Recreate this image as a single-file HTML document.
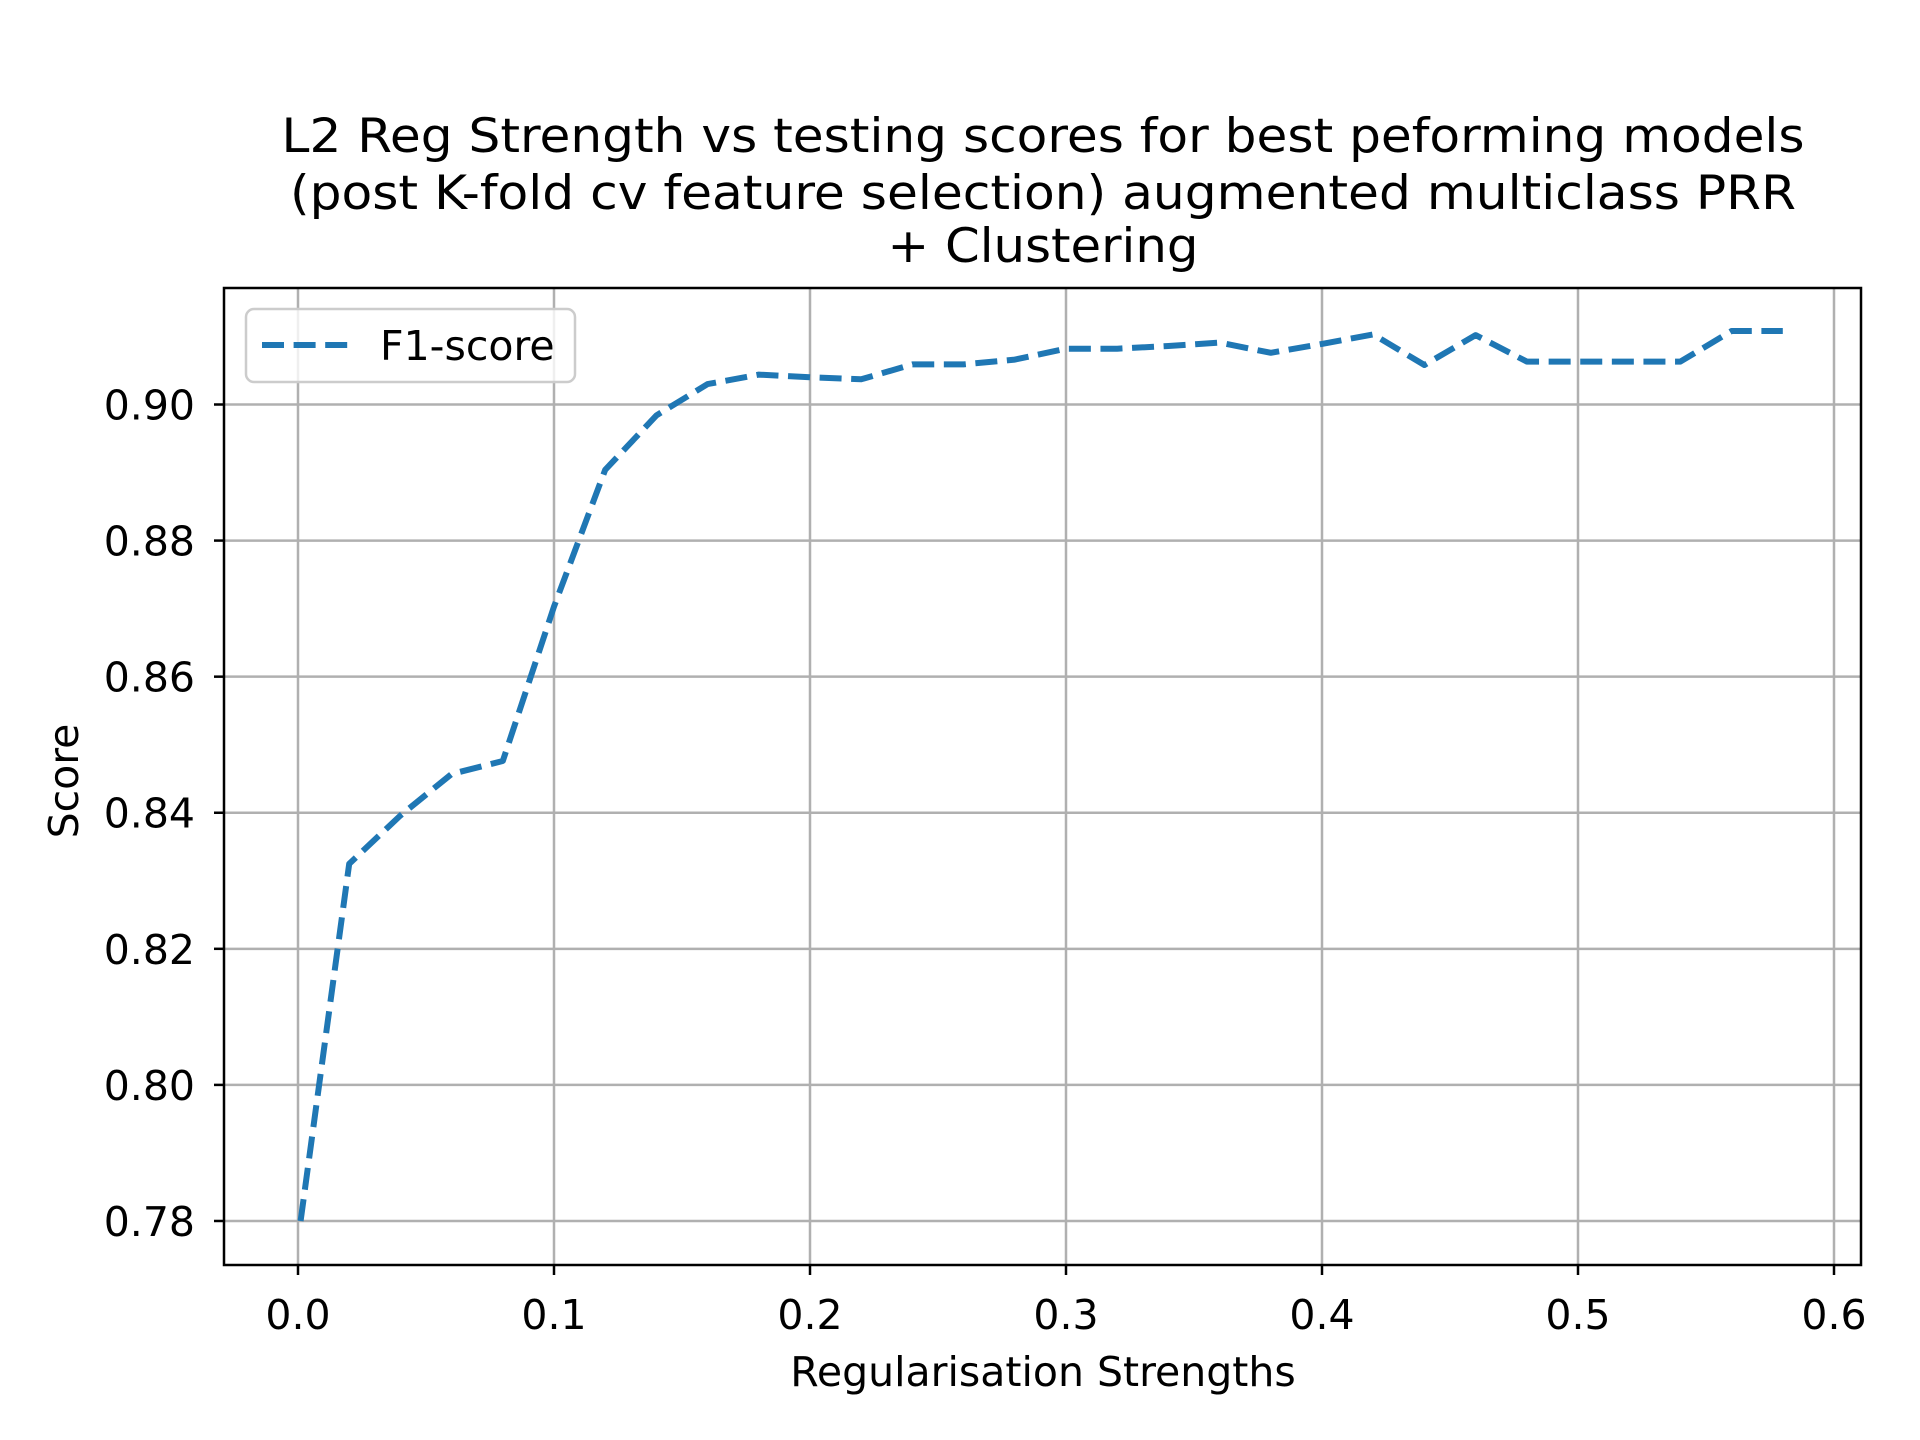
<!DOCTYPE html>
<html><head><meta charset="utf-8"><style>
body{margin:0;background:#fff}
svg{display:block;font-family:"DejaVu Sans","Liberation Sans",sans-serif}
</style></head><body>
<svg id="chart" width="1920" height="1440" viewBox="0 0 1920 1440">
<rect width="1920" height="1440" fill="#fff"/>
<g id="title" font-size="47" text-anchor="middle" fill="#000">
<text x="1043" y="152" textLength="1523" lengthAdjust="spacingAndGlyphs">L2 Reg Strength vs testing scores for best peforming models</text>
<text x="1043" y="209" textLength="1506" lengthAdjust="spacingAndGlyphs">(post K-fold cv feature selection) augmented multiclass PRR</text>
<text x="1043" y="262" textLength="311" lengthAdjust="spacingAndGlyphs">+ Clustering</text>
</g>
<g id="grid"></g>
<g id="series"></g>
<rect x="224" y="288" width="1637" height="977" fill="none" stroke="#000" stroke-width="2.5"/>
<g id="ticks"></g>
<text x="1043" y="1386" font-size="41" text-anchor="middle">Regularisation Strengths</text>
<text transform="translate(78,781) rotate(-90)" font-size="41" text-anchor="middle">Score</text>
<g>
<rect x="246" y="309" width="329" height="73" rx="8" fill="#fff" fill-opacity="0.8" stroke="#ccc" stroke-width="2.5"/>
<line x1="262" y1="345" x2="355" y2="345" stroke="#1f77b4" stroke-width="6" stroke-dasharray="22,9.6"/>
<text x="380" y="360" font-size="41">F1-score</text>
</g>
</svg>
<script>
const xValues=[0.001,0.02,0.04,0.06,0.08,0.10,0.12,0.14,0.16,0.18,0.20,0.22,0.24,0.26,0.28,0.30,0.32,0.34,0.36,0.38,0.40,0.42,0.44,0.46,0.48,0.50,0.52,0.54,0.56,0.58];
const f1Scores=[0.780,0.8325,0.8396,0.8457,0.8476,0.8703,0.8904,0.8984,0.9030,0.9044,0.9040,0.9037,0.9059,0.9059,0.9066,0.9082,0.9082,0.9086,0.9091,0.9076,0.9089,0.9103,0.9058,0.9102,0.9063,0.9063,0.9063,0.9063,0.9108,0.9108];
const xTicks=[0.0,0.1,0.2,0.3,0.4,0.5,0.6];
const xTickLabels=["0.0","0.1","0.2","0.3","0.4","0.5","0.6"];
const yTicks=[0.78,0.80,0.82,0.84,0.86,0.88,0.90];
const yTickLabels=["0.78","0.80","0.82","0.84","0.86","0.88","0.90"];
const NS="http://www.w3.org/2000/svg";
const L=224,R=1861,T=288,B=1265;
function xs(v){return 298+v*2560;}
function ys(v){return 404.5+(0.90-v)*6804;}
function mk(tag,attrs,parent){const e=document.createElementNS(NS,tag);for(const k in attrs)e.setAttribute(k,attrs[k]);parent.appendChild(e);return e;}
const grid=document.getElementById('grid'),ticks=document.getElementById('ticks'),series=document.getElementById('series');
xTicks.forEach((t,i)=>{const x=xs(t);
 const g=mk('line',{x1:x,x2:x,y1:T,y2:B,stroke:'#b0b0b0','stroke-width':2.5},grid);
 
 
 const tk=mk('line',{x1:x,x2:x,y1:B,y2:B+10,stroke:'#000','stroke-width':2.5},ticks);
 
 
 const tx=mk('text',{x:x,y:B+64,'font-size':41,'text-anchor':'middle'},ticks);
 tx.textContent=xTickLabels[i];
 
 
});
yTicks.forEach((t,i)=>{const y=ys(t);
 const g=mk('line',{x1:L,x2:R,y1:y,y2:y,stroke:'#b0b0b0','stroke-width':2.5},grid);
 
 
 const tk=mk('line',{x1:L-10,x2:L,y1:y,y2:y,stroke:'#000','stroke-width':2.5},ticks);
 
 
 const tx=mk('text',{x:L-29,y:y+15,'font-size':41,'text-anchor':'end'},ticks);
 tx.textContent=yTickLabels[i];
 
 
});
const pts=xValues.map((x,i)=>xs(x).toFixed(1)+','+ys(f1Scores[i]).toFixed(1)).join(' ');
const pl=mk('polyline',{points:pts,fill:'none',stroke:'#1f77b4','stroke-width':6,'stroke-dasharray':'22,9.6','stroke-linejoin':'round'},series);


</script>
</body></html>
